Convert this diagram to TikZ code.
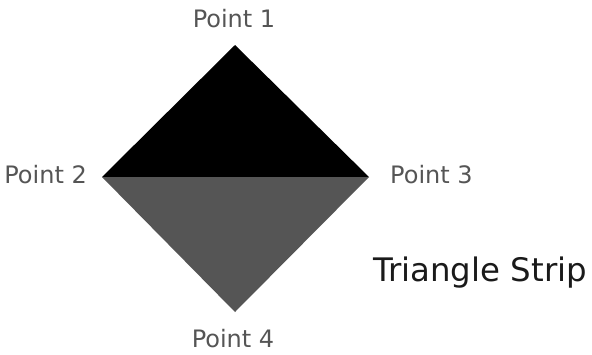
\documentclass[tikz,border=0pt]{standalone}
\usepackage{fontspec}
\setmainfont{DejaVu Sans}
\definecolor{lbl}{HTML}{555555}
\definecolor{lowtri}{HTML}{555555}
\definecolor{ttl}{HTML}{1A1A1A}
\begin{document}
\begin{tikzpicture}[x=1pt,y=-1pt,
  lab/.style={text=lbl,font=\fontsize{24}{28}\selectfont,inner sep=0pt,anchor=base},
  ttlst/.style={text=ttl,font=\fontsize{32.4}{38}\selectfont,inner sep=0pt,anchor=base west}]
\useasboundingbox (0,0) rectangle (592,354);
\coordinate (p1) at (235,45);
\coordinate (p2) at (102,177);
\coordinate (p3) at (369,177);
\coordinate (p4) at (235,312);
\fill[black] (p1) -- (p2) -- (p3) -- cycle;
\fill[lowtri] (p2) -- (p3) -- (p4) -- cycle;
\node[lab] (l1) at (234,27) {Point 1};
\node[lab,anchor=base east] (l2) at (87,183) {Point 2};
\node[lab,anchor=base west] (l3) at (390,183) {Point 3};
\node[lab] (l4) at (233,347) {Point 4};
\node[ttlst] (t) at (373,281) {Triangle Strip};
\end{tikzpicture}
\end{document}
